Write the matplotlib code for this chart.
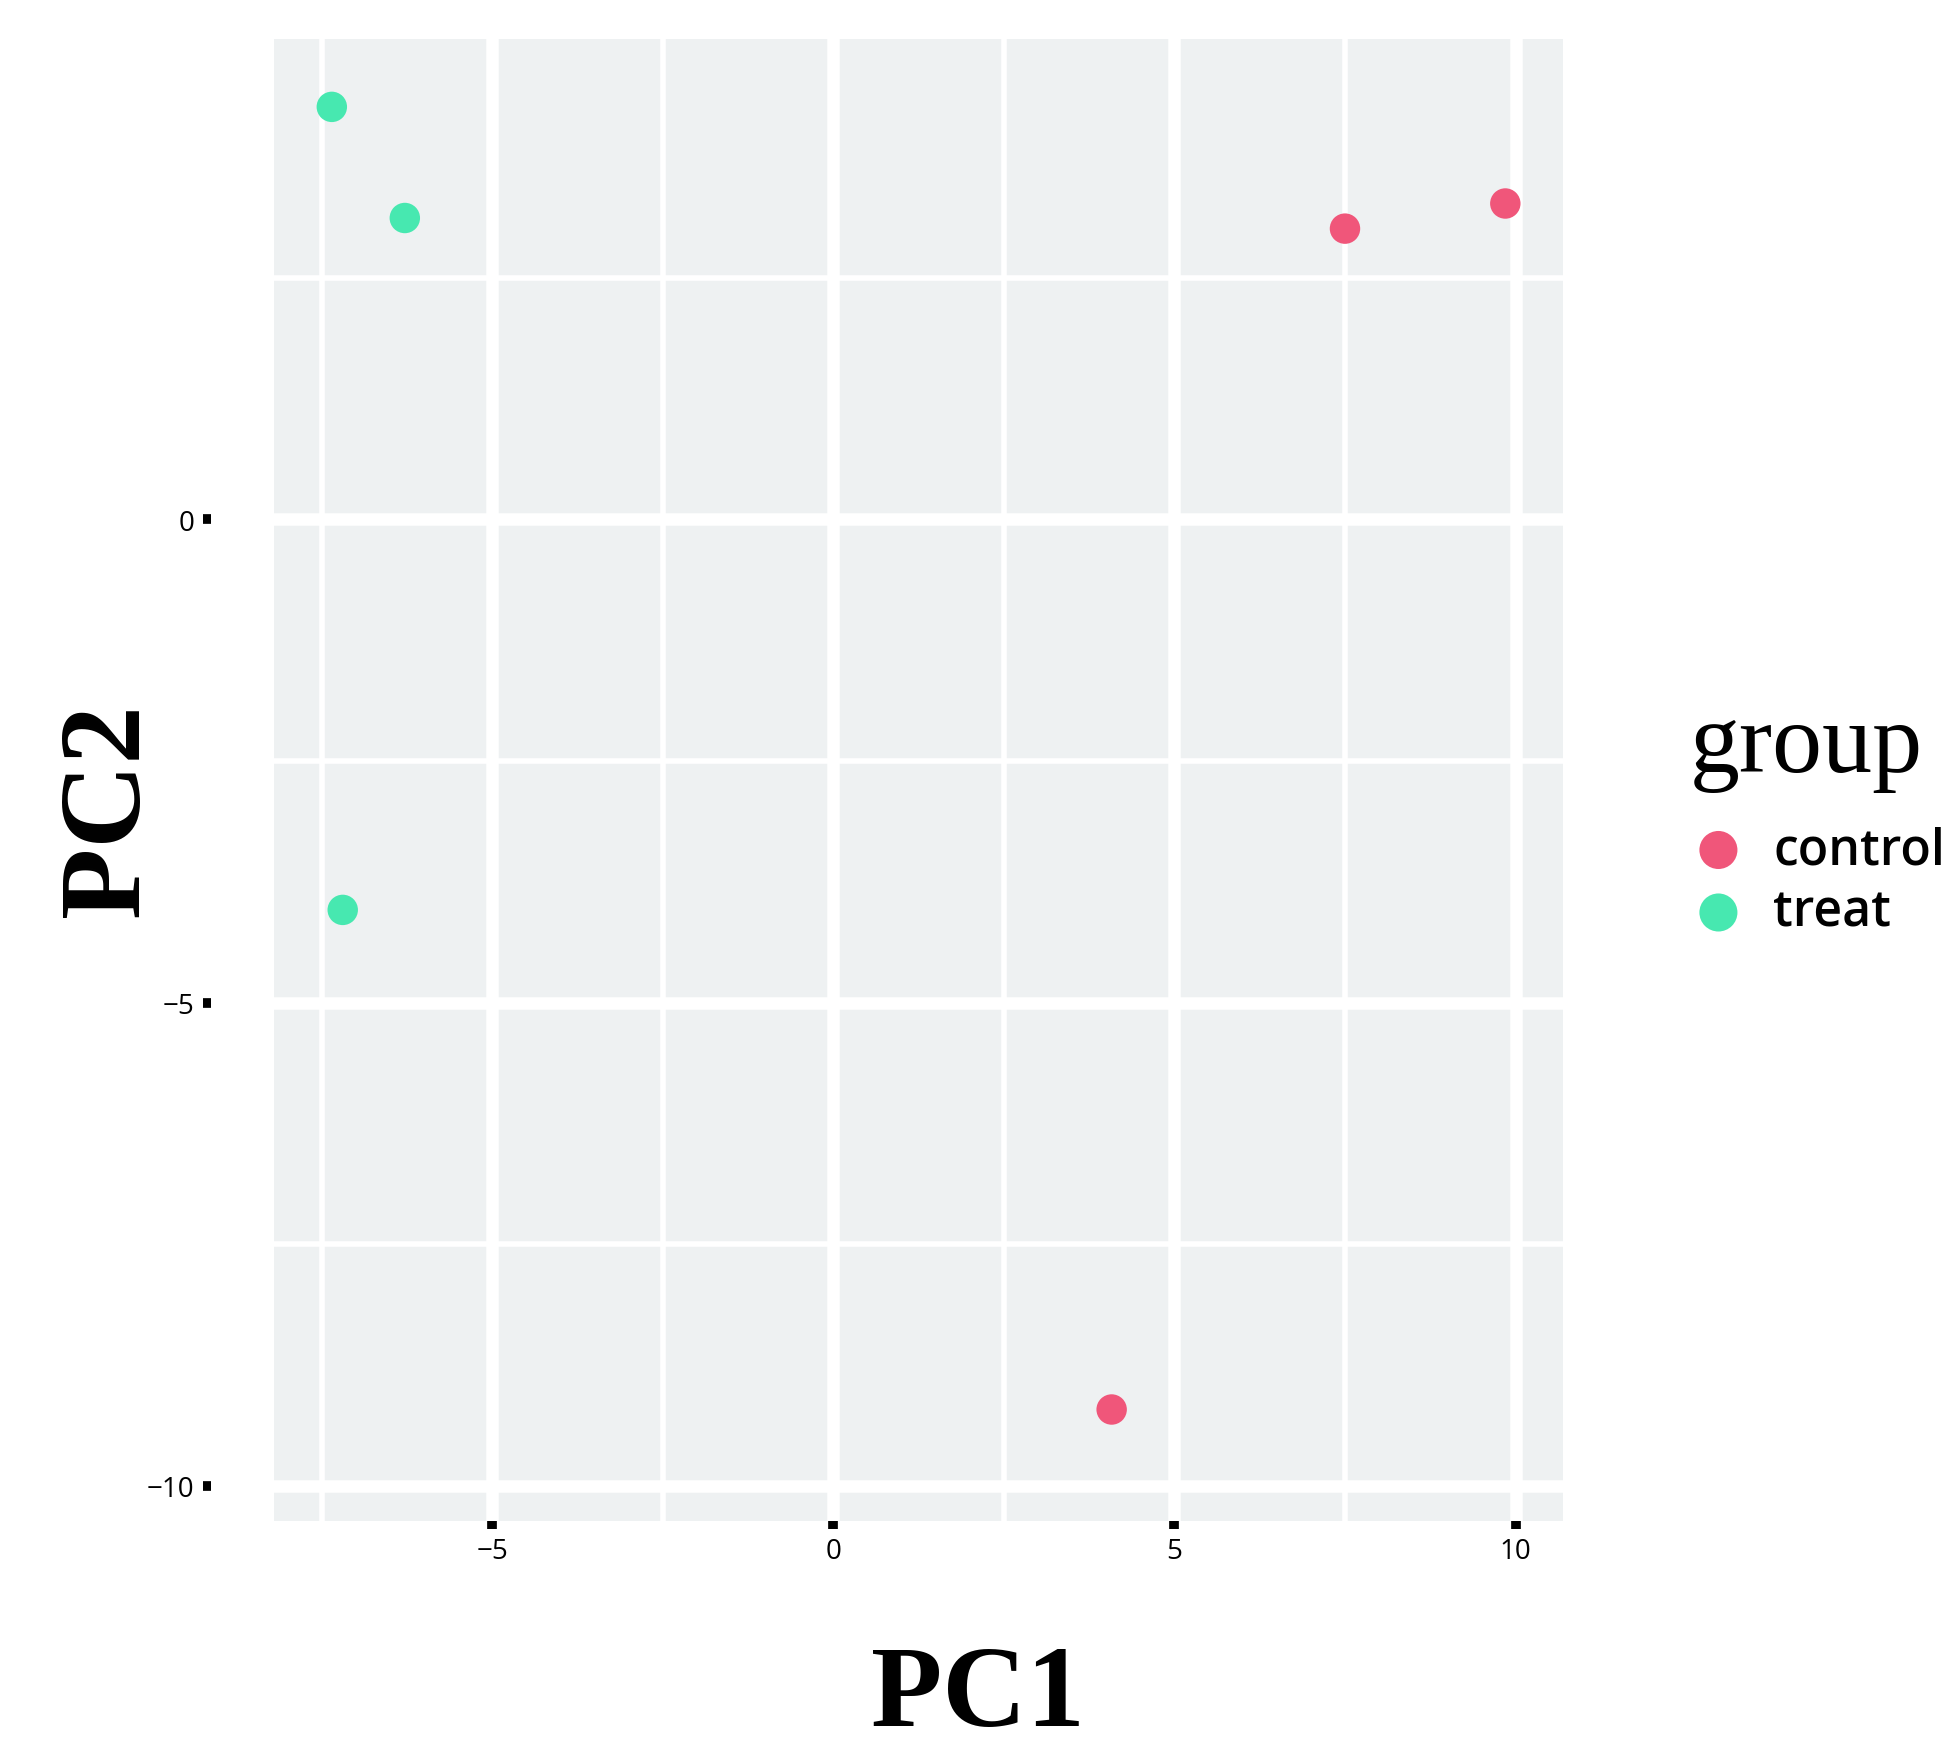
import matplotlib
matplotlib.use('Agg')
import matplotlib.pyplot as plt
from matplotlib.ticker import FixedLocator

# valores
groups = ['control', 'treat']
colors = {'control': '#F0567A', 'treat': '#47E8B0'}
pc1 = {'control': [7.50, 9.85, 4.08], 'treat': [-7.35, -6.28, -7.19]}
pc2 = {'control': [3.01, 3.27, -9.21], 'treat': [4.27, 3.12, -4.04]}
xticks = [-5, 0, 5, 10]
yticks = [0, -5, -10]

fig = plt.figure(figsize=(19.42, 17.49), dpi=100, facecolor='white')
ax = fig.add_axes([0.141, 0.130, 0.664, 0.847])
ax.set_facecolor('#EEF1F2')

for g in groups:
    ax.scatter(pc1[g], pc2[g], s=480, c=colors[g], edgecolors='none',
               label=g, zorder=3)

ax.set_xlim(-8.2, 10.7)
ax.set_ylim(-10.36, 4.97)

# grade estilo ggplot
ax.xaxis.set_major_locator(FixedLocator(xticks))
ax.yaxis.set_major_locator(FixedLocator(yticks))
ax.xaxis.set_minor_locator(FixedLocator([-7.5, -2.5, 2.5, 7.5]))
ax.yaxis.set_minor_locator(FixedLocator([2.5, -2.5, -7.5]))
ax.grid(which='major', color='white', lw=9, zorder=1)
ax.grid(which='minor', color='white', lw=4, zorder=1)
ax.set_axisbelow(True)

for s in ax.spines.values():
    s.set_visible(False)
ax.spines['left'].set_position(('outward', 45))

ax.tick_params(which='major', length=6, width=7, color='black',
               labelsize=20, pad=6)
ax.tick_params(which='minor', length=0)
ax.set_xticklabels([str(t) if t >= 0 else '\u2212' + str(-t) for t in xticks],
                   family='Open Sans')
ax.set_yticklabels([str(t) if t >= 0 else '\u2212' + str(-t) for t in yticks],
                   family='Open Sans')

ax.set_xlabel('PC1', family='Liberation Serif', fontweight='bold', fontsize=84)
ax.set_ylabel('PC2', family='Liberation Serif', fontweight='bold', fontsize=84)
ax.xaxis.set_label_coords(0.546, -0.083)
ax.yaxis.set_label_coords(-0.086, 0.48)

# legenda
ax.text(1.098, 0.522, 'group', transform=ax.transAxes, family='Liberation Serif',
        fontsize=72, ha='left', va='center')
leg = ax.legend(loc='upper left', bbox_to_anchor=(1.066, 0.483),
                frameon=False, prop={'family': 'Open Sans', 'size': 36, 'weight': 'semibold'},
                markerscale=1.25, handletextpad=0.1, labelspacing=0.25,
                borderaxespad=0)

fig.savefig('out.png', dpi=100, facecolor='white')
